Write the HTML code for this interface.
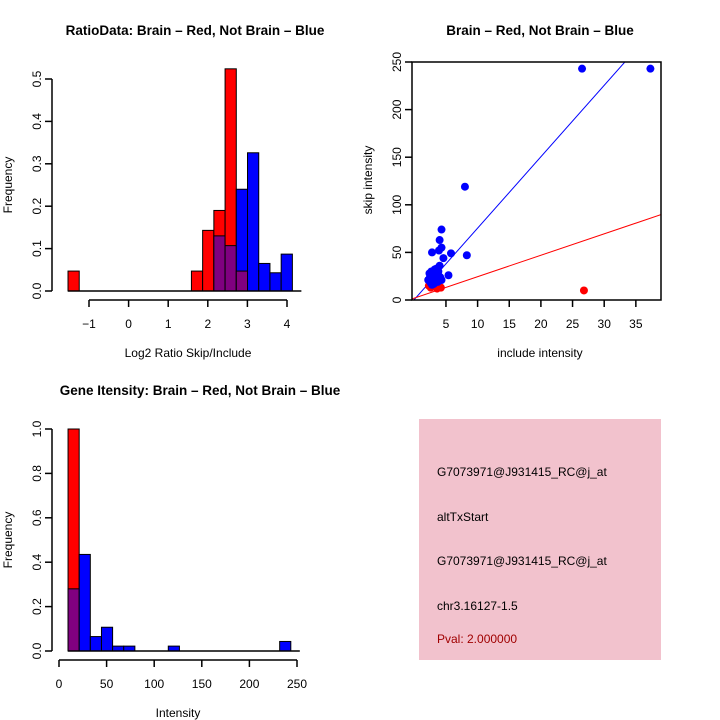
<!DOCTYPE html>
<html><head><meta charset="utf-8"><style>
html,body{margin:0;padding:0;background:#fff}
svg{display:block;font-family:"Liberation Sans",sans-serif}
</style></head><body>
<svg id="s" width="720" height="720" viewBox="0 0 720 720">
<rect x="419" y="419" width="242" height="241" fill="#f2c2cd"/>
<g font-size="12">
<text x="437" y="476">G7073971@J931415_RC@j_at</text>
<text x="437" y="521">altTxStart</text>
<text x="437" y="565">G7073971@J931415_RC@j_at</text>
<text x="437" y="610">chr3.16127-1.5</text>
<text x="437" y="643" fill="#a00000">Pval: 2.000000</text>
</g>
</svg>
<script>
// Chart 1: ratio histogram
const ratioBinStart = -1.53, ratioBinWidth = 0.2833;
const ratioRed  = [0.047,0,0,0,0,0,0,0,0,0,0,0.047,0.143,0.19,0.524,0.047,0,0,0,0];
const ratioBlue = [0,0,0,0,0,0,0,0,0,0,0,0,0,0.13,0.107,0.24,0.326,0.065,0.043,0.087];
const ratioXTicks = [-1,0,1,2,3,4];
const ratioYTicks = [0,0.1,0.2,0.3,0.4,0.5];
// Chart 2: scatter
const blueX = [26.5,37.3,8,4.3,4,3.9,4.3,2.8,5.8,8.3,4.6,5.4,4,2.2,2.5,2.7,2.9,3.0,3.2,3.4,3.6,3.8,2.6,3.1,3.3,3.5,4.1,4.3,2.8,3.0,3.7,2.4];
const blueY = [243,243,119,74,63,52,55,50,49,47,44,26,36,21,25,30,28,22,32,27,24,30,18,17,20,33,24,21,16,30,19,28];
const redX = [26.8,2.3,2.6,2.9,3.3,3.6,3.9,4.2,2.8];
const redY = [10,15,13,16,14,12,15,13,18];
const blueSlope = 7.5, blueIntercept = 0.5, redSlope = 2.25, redIntercept = 2;
const scX = [5,10,15,20,25,30,35];
const scY = [0,50,100,150,200,250];
// Chart 3: intensity histogram
const intBinStart = 9.5, intBinWidth = 11.7;
const intRed  = [1.0,0,0,0,0,0,0,0,0,0,0,0,0,0,0,0,0,0,0,0];
const intBlue = [0.28,0.435,0.065,0.107,0.022,0.022,0,0,0,0.022,0,0,0,0,0,0,0,0,0,0.043];
const intXTicks = [0,50,100,150,200,250];
const intYTicks = [0,0.2,0.4,0.6,0.8,1.0];

const NS='http://www.w3.org/2000/svg', svg=document.getElementById('s');
function mk(tag,attrs,parent,txt){const e=document.createElementNS(NS,tag);for(const k in attrs)e.setAttribute(k,attrs[k]);if(txt!==undefined)e.textContent=txt;(parent||svg).appendChild(e);return e;}
function grp(name){const g=mk('g',{});


return g;}
function text(g,x,y,s,opts){const t=mk('text',Object.assign({x:x,y:y,'font-size':12,'text-anchor':'middle'},opts||{}),g,s);


return t;}

function histogram(name,title,titleX,titleY,red,blue,bStart,bW,sx,sy,xT,yT,yLabelX,y0,xAxisY,xLabel,fmtY){
  const g=grp(name);
  const n=red.length;
  for(let i=0;i<n;i++){
    const a=bStart+i*bW,b=a+bW;
    const r=red[i],bl=blue[i],mn=Math.min(r,bl),mx=Math.max(r,bl);
    const col=r>=bl?'#ff0000':'#0000ff';
    if(mx>0){const e=mk('rect',{x:sx(a),y:sy(mx),width:sx(b)-sx(a),height:sy(0)-sy(mx),fill:col,stroke:'#000','stroke-width':1},g);
      
      }
    if(mn>0){const e=mk('rect',{x:sx(a),y:sy(mn),width:sx(b)-sx(a),height:sy(0)-sy(mn),fill:'#800080',stroke:'#000','stroke-width':1},g);
      
      }
  }
  mk('line',{x1:sx(bStart),x2:sx(bStart+n*bW)+9,y1:sy(0),y2:sy(0),stroke:'#000','stroke-width':1.5},g);
  mk('line',{x1:52,x2:52,y1:sy(yT[0]),y2:sy(yT[yT.length-1]),stroke:'#000','stroke-width':1.5},g);
  yT.forEach(v=>{mk('line',{x1:45,x2:52,y1:sy(v),y2:sy(v),stroke:'#000','stroke-width':1.5},g);
    text(g,0,0,fmtY(v),{transform:`translate(41,${sy(v)}) rotate(-90)`});});
  mk('line',{x1:sx(xT[0]),x2:sx(xT[xT.length-1]),y1:xAxisY,y2:xAxisY,stroke:'#000','stroke-width':1.5},g);
  xT.forEach(v=>{mk('line',{x1:sx(v),x2:sx(v),y1:xAxisY,y2:xAxisY+7,stroke:'#000','stroke-width':1.5},g);
    text(g,sx(v),xAxisY+28,String(v).replace('-','\u2212'));});
  text(g,(sx(xT[0])+sx(xT[xT.length-1]))/2,xAxisY+57,xLabel);
  text(g,0,0,'Frequency',{transform:`translate(${yLabelX},${y0}) rotate(-90)`});
  text(g,titleX,titleY,title,{'font-size':13.5,'font-weight':'bold'});
}
histogram('ratio-histogram','RatioData: Brain \u2013 Red, Not Brain \u2013 Blue',195,35,ratioRed,ratioBlue,ratioBinStart,ratioBinWidth,
  v=>89+(v+1)*39.6, v=>291-v*424, ratioXTicks, ratioYTicks, 12, 185, 300,'Log2 Ratio Skip/Include', v=>v.toFixed(1));
histogram('intensity-histogram','Gene Itensity: Brain \u2013 Red, Not Brain \u2013 Blue',200,395,intRed,intBlue,intBinStart,intBinWidth,
  v=>59+v*0.952, v=>651-v*222, intXTicks, intYTicks, 12, 540, 660,'Intensity', v=>v.toFixed(1));

(function(){
  const g=grp('scatter-plot');
  const sx=v=>414.3+v*6.33, sy=v=>300-v*0.952;
  const L=412,R=661,T=62,B=300;
  const cp=mk('clipPath',{id:'cp'},g);mk('rect',{x:L,y:T,width:R-L,height:B-T},cp);
  const xmin=(L-414.3)/6.33,xmax=(R-414.3)/6.33;
  const bl=mk('line',{x1:sx(xmin),y1:sy(blueIntercept+blueSlope*xmin),x2:sx(xmax),y2:sy(blueIntercept+blueSlope*xmax),stroke:'#0000ff','stroke-width':1,'clip-path':'url(#cp)'},g);
  
  
  const rl=mk('line',{x1:sx(xmin),y1:sy(redIntercept+redSlope*xmin),x2:sx(xmax),y2:sy(redIntercept+redSlope*xmax),stroke:'#ff0000','stroke-width':1,'clip-path':'url(#cp)'},g);
  
  
  redX.forEach((x,i)=>{const c=mk('circle',{cx:sx(x),cy:sy(redY[i]),r:4,fill:'#ff0000'},g);
    
    });
  blueX.forEach((x,i)=>{const c=mk('circle',{cx:sx(x),cy:sy(blueY[i]),r:4,fill:'#0000ff'},g);
    
    });
  mk('rect',{x:L,y:T,width:R-L,height:B-T,fill:'none',stroke:'#000','stroke-width':1.5},g);
  scX.forEach(v=>{mk('line',{x1:sx(v),x2:sx(v),y1:B,y2:B+7,stroke:'#000','stroke-width':1.5},g);text(g,sx(v),B+28,String(v));});
  scY.forEach(v=>{mk('line',{x1:L-7,x2:L,y1:sy(v),y2:sy(v),stroke:'#000','stroke-width':1.5},g);
    text(g,0,0,String(v),{transform:`translate(401,${sy(v)}) rotate(-90)`});});
  text(g,540,357,'include intensity');
  text(g,0,0,'skip intensity',{transform:`translate(372,180) rotate(-90)`});
  text(g,540,35,'Brain \u2013 Red, Not Brain \u2013 Blue',{'font-size':13.5,'font-weight':'bold'});
})();
</script>
</body></html>
